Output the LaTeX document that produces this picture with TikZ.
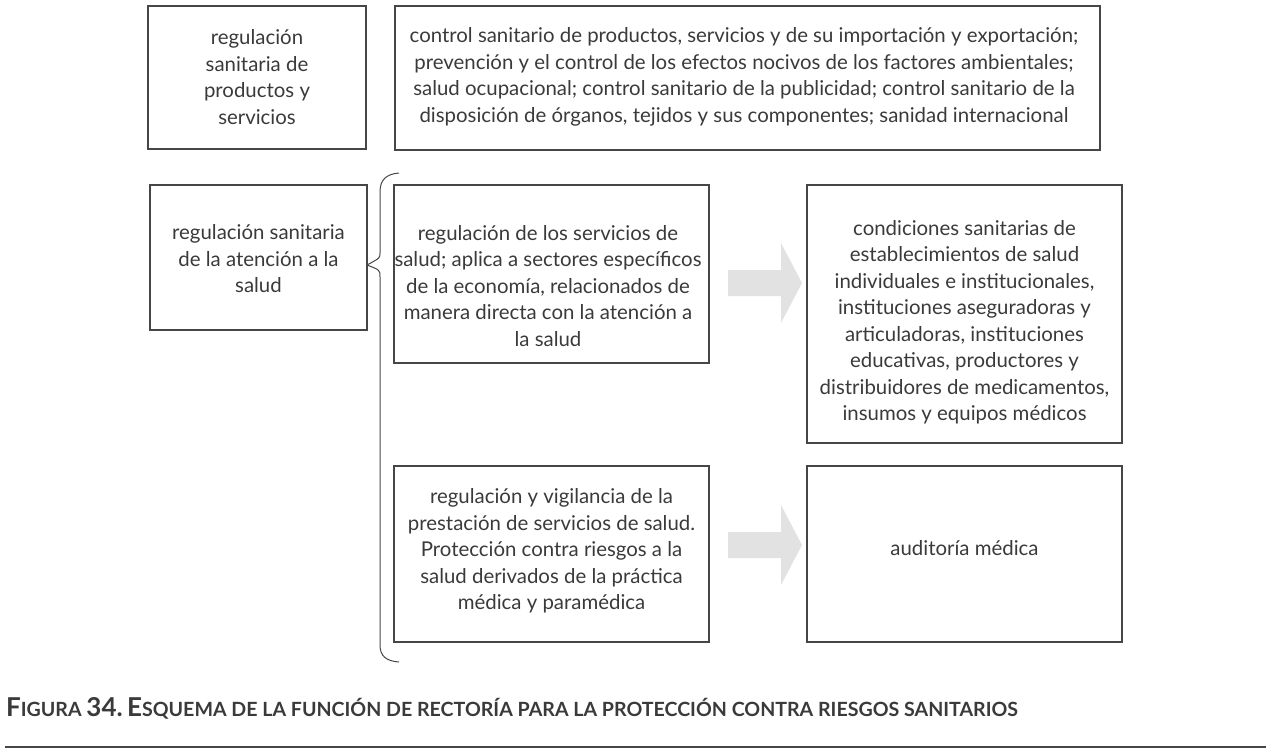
\documentclass[tikz,border=0pt]{standalone}
\usepackage{fontspec}
\setmainfont{Lato}
\usepackage{tikz}
\usetikzlibrary{positioning, calc}
\definecolor{TextGray}{RGB}{58, 58, 58}
\definecolor{LineGray}{RGB}{70, 70, 70}
\definecolor{ArrowGray}{RGB}{226, 226, 226}

\newcommand{\grayarrow}[1]{%
  \fill[ArrowGray] (#1) ++(-36,-13) -- ++(53,0) -- ++(0,-27) -- ++(21,40)
    -- ++(-21,40) -- ++(0,-27) -- ++(-53,0) -- cycle;}

\begin{document}
\begin{tikzpicture}[
    x=0.5pt, y=-0.5pt,
    box/.style={draw=LineGray, line width=0.6pt, inner sep=0pt},
    txt/.style={align=center, text=TextGray, font=\fontsize{10.2}{13.25}\selectfont},
    caption/.style={anchor=west, text=TextGray, font=\bfseries}
  ]
    \useasboundingbox (0,0) rectangle (1269,750);

    % Top row
    \node[box, minimum width=109pt, minimum height=71.5pt] (b1) at (257,77.5) {};
    \node[txt] (t1) at (257,77) {regulación\\sanitaria de\\productos y\\servicios};
    \node[box, minimum width=352.5pt, minimum height=72pt] (b2) at (747.5,78) {};
    \node[txt] (t2) at (744,77) {control sanitario de productos, servicios y de su importación y exportación;\\
      prevención y el control de los efectos nocivos de los factores ambientales;\\
      salud ocupacional; control sanitario de la publicidad; control sanitario de la\\
      disposición de órganos, tejidos y sus componentes; sanidad internacional};

    % Atencion a la salud
    \node[box, minimum width=108.5pt, minimum height=72.5pt] (b3) at (258.5,257.5) {};
    \node[txt] (t3) at (258.5,259) {regulación sanitaria\\de la atención a la\\salud};

    % Brace
    \coordinate (bracetop) at (399,173);
    \coordinate (bracetip) at (367,265);
    \coordinate (bracebot) at (399,662);
    \draw[LineGray, line width=0.5pt] (bracetop) .. controls (386,174) and (380,180) .. (380,192)
      -- (380,253) .. controls (380,258) .. (bracetip) .. controls (380,270) .. (380,277)
      -- (380,645) .. controls (380,656) and (386,661) .. (bracebot);

    % Middle row
    \node[box, minimum width=157.5pt, minimum height=89pt] (b4) at (551.5,274) {};
    \node[txt] (t4) at (548,286) {regulación de los servicios de\\salud; aplica a sectores específicos\\de la economía, relacionados de\\manera directa con la atención a\\la salud};
    \node[box, minimum width=157.5pt, minimum height=129pt] (b5) at (964.5,314) {};
    \node[txt] (t5) at (964.5,322) {condiciones sanitarias de\\establecimientos de salud\\individuales e institucionales,\\instituciones aseguradoras y\\articuladoras, instituciones\\educativas, productores y\\distribuidores de medicamentos,\\insumos y equipos médicos};
    \coordinate (arrow1) at (764,283);
    \grayarrow{arrow1}

    % Bottom row
    \node[box, minimum width=157.5pt, minimum height=88pt] (b6) at (551.5,554) {};
    \node[txt] (t6) at (551.5,551) {regulación y vigilancia de la\\prestación de servicios de salud.\\Protección contra riesgos a la\\salud derivados de la práctica\\médica y paramédica};
    \node[box, minimum width=157.5pt, minimum height=88pt] (b7) at (964.5,554) {};
    \node[txt] (t7) at (964.5,548) {auditoría médica};
    \coordinate (arrow2) at (764,545);
    \grayarrow{arrow2}

    % Caption
    \node[caption] (cap) at (-1,708) {{\fontsize{13}{14}\selectfont F}{\fontsize{9.8}{14}\selectfont IGURA}
      {\fontsize{13}{14}\selectfont 34.\,E}{\fontsize{9.8}{14}\selectfont SQUEMA DE LA FUNCIÓN DE RECTORÍA PARA LA PROTECCIÓN CONTRA RIESGOS SANITARIOS}};
    \coordinate (ruleleft) at (5,747);
    \coordinate (ruleright) at (1266,747);
    \draw[LineGray, line width=0.8pt] (ruleleft) -- (ruleright);
  \end{tikzpicture}
\end{document}
